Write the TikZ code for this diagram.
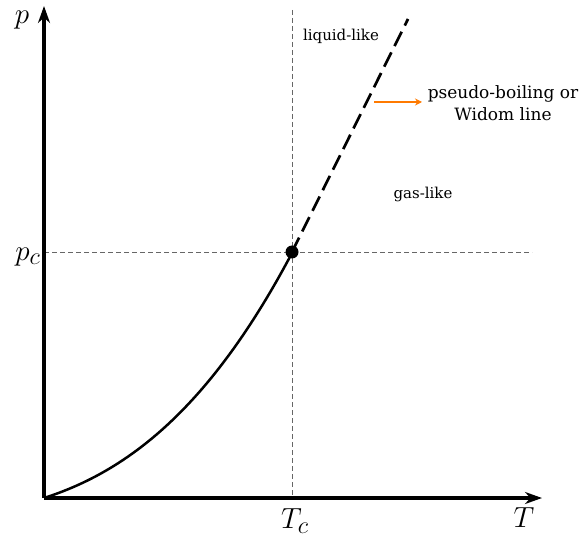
\documentclass[tikz,border=0pt]{standalone}
\usepackage{graphicx}
\usepackage{fontspec}
\setmainfont{DejaVu Serif}
\usetikzlibrary{arrows.meta}
\newcommand{\biglab}[1]{\scalebox{1.17}{$#1$}}
\begin{document}
\begin{tikzpicture}[x=1pt,y=-1pt,
  axis/.style={line width=3.2pt,-{Stealth[length=17pt,width=12pt]}},
  guide/.style={gray!80!black,line width=0.9pt,dash pattern=on 5pt off 3pt},
  coex/.style={line width=2.5pt},
  widom/.style={line width=2.7pt,dash pattern=on 16pt off 7pt},
  lbl/.style={font=\fontsize{15}{17}\selectfont,align=center},
  mlbl/.style={font=\fontsize{24.88}{27}\selectfont,inner sep=0pt}]
\useasboundingbox (0,0) rectangle (581,537);
\coordinate (O) at (44,498);
\coordinate (C) at (292,252);
\coordinate (W) at (408,19);
\coordinate (Ytop) at (44,6);
\coordinate (Xend) at (542,498);
\coordinate (Vtop) at (292,10);
\coordinate (Hend) at (532,252);
\coordinate (Hstart) at (44,252);
\draw[guide] (Vtop) -- (292,498);
\draw[guide] (Hstart) -- (Hend);
\draw[coex] plot[domain=0:2.48,samples=60,smooth] ({44+100*\x},{498-31.94*\x-17.41*\x*\x-3.85*\x*\x*\x});
\draw[widom] (C) -- (W);
\draw[axis] (O) -- (Ytop);
\draw[axis] (O) -- (Xend);
\fill (C) circle (6.5pt);
\node[mlbl] (p) at (22,20) {\biglab{p}};
\node[mlbl] (pc) at (28,257) {\biglab{p_c}};
\node[mlbl] (Tc) at (295,521) {\biglab{T_c}};
\node[mlbl] (T) at (524,518) {\biglab{T}};
\node[lbl] (liq) at (341,36) {liquid-like};
\node[lbl] (gas) at (423,194) {gas-like};
\node[lbl,font=\fontsize{17}{22}\selectfont] (ps) at (503,103) {pseudo-boiling or\\Widom line};
\coordinate (a0) at (374,102);
\coordinate (a1) at (422,102);
\draw[orange!90!red!95!yellow,line width=1.8pt,-{Stealth[length=7pt,width=7pt]}] (a0) -- (a1);
\end{tikzpicture}
\end{document}
